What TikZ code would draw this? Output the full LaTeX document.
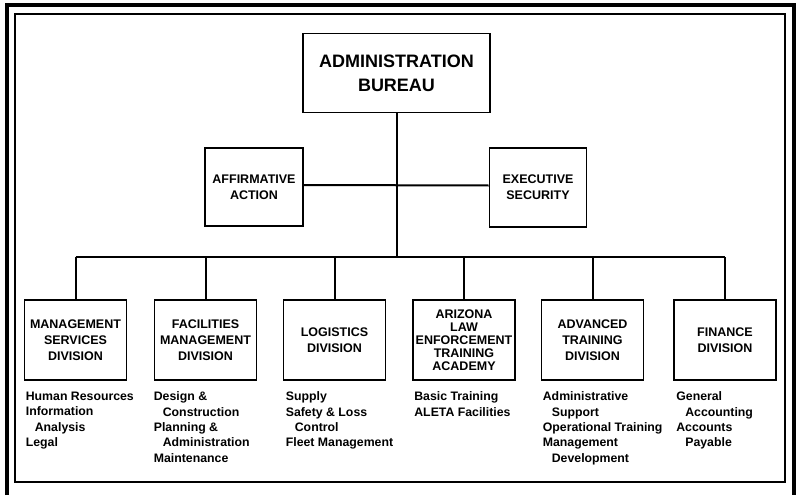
\documentclass[tikz,border=0pt]{standalone}
\usepackage{fontspec}
\setsansfont{Liberation Sans}
\usepackage{tikz}
\usetikzlibrary{positioning}
\tikzstyle{unit}=[draw, line width=1.7pt, rectangle, align=center, inner sep=0pt,
  minimum width=102pt, minimum height=80pt,
  font=\sffamily\bfseries\fontsize{12.5}{16}\selectfont]
\tikzstyle{duties}=[anchor=north west, align=left, inner sep=0pt,
  font=\sffamily\bfseries\fontsize{12.3}{15.3}\selectfont]
\tikzset{link/.style={line width=2pt}}
\newcommand{\ind}{\hspace*{9pt}}

\begin{document}
\begin{tikzpicture}[x=1pt, y=-1pt]
		\useasboundingbox (0,0) rectangle (800,495);
		\draw[line width=3.5pt] (7,495) -- (7,5) -- (794,5) -- (794,495);
		\draw[line width=2pt] (15,14) rectangle (785,482);
		\node[unit, minimum width=187pt, minimum height=79pt,
		  font=\sffamily\bfseries\fontsize{18}{24}\selectfont] (bureau) at (396.5,73) {ADMINISTRATION\\BUREAU};
		\node[unit, minimum width=98pt, minimum height=78pt] (affirm) at (254,187) {AFFIRMATIVE\\ACTION};
		\node[unit, minimum width=97pt, minimum height=79pt] (execsec) at (538,187.5) {EXECUTIVE\\SECURITY};
		\node[unit] (msd) at (75.5,340) {MANAGEMENT\\SERVICES\\DIVISION};
		\node[unit] (fmd) at (205.5,340) {FACILITIES\\MANAGEMENT\\DIVISION};
		\node[unit] (logd) at (334.5,340) {LOGISTICS\\DIVISION};
		\node[unit, font=\sffamily\bfseries\fontsize{12.5}{13}\selectfont] (alea) at (464,340) {ARIZONA\\LAW\\ENFORCEMENT\\TRAINING\\ACADEMY};
		\node[unit] (atd) at (592.5,340) {ADVANCED\\TRAINING\\DIVISION};
		\node[unit] (find) at (725,340) {FINANCE\\DIVISION};
		\coordinate (bus) at (396.5,257);
		\draw[link] (bureau.south) -- (bureau.south |- bus);
		\draw[link] ([yshift=2pt]affirm.east) -- ([yshift=2pt]execsec.west);
		\draw[link] (msd.north |- bus) -- (find.north |- bus);
		\foreach \d in {msd,fmd,logd,alea,atd,find}
		  \draw[link] (\d.north |- bus) -- (\d.north);
		\node[duties] (msdjobs) at ([xshift=2pt, yshift=-11pt]msd.south west) {Human Resources\\Information\\\ind Analysis\\Legal};
		\node[duties] (fmdjobs) at ([xshift=0pt, yshift=-11pt]fmd.south west) {Design \&\\\ind Construction\\Planning \&\\\ind Administration\\Maintenance};
		\node[duties] (logdjobs) at ([xshift=3pt, yshift=-11pt]logd.south west) {Supply\\Safety \& Loss\\\ind Control\\Fleet Management};
		\node[duties] (aleajobs) at ([xshift=2pt, yshift=-11pt]alea.south west) {Basic Training\\ALETA Facilities};
		\node[duties] (atdjobs) at ([xshift=2pt, yshift=-11pt]atd.south west) {Administrative\\\ind Support\\Operational Training\\Management\\\ind Development};
		\node[duties] (findjobs) at ([xshift=3pt, yshift=-11pt]find.south west) {General\\\ind Accounting\\Accounts\\\ind Payable};
		\end{tikzpicture}
\end{document}
